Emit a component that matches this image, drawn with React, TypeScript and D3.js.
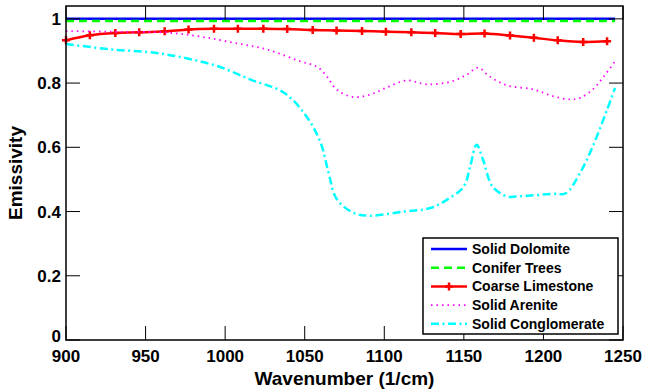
import React from 'react';
import * as d3 from 'd3';

// Flat spectra (start / end of the band)
const flatX = [900, 1245];
const solidDolomite = [1.0, 1.0];
const coniferTrees = [0.993, 0.993];

// Coarse limestone, sampled channels (marked with +)
const limestoneX = [900, 915, 931, 946, 962, 977, 993, 1008, 1024, 1039, 1055, 1070,
    1086, 1101, 1117, 1132, 1148, 1163, 1179, 1194, 1209, 1225, 1240];
const coarseLimestone = [0.933, 0.949, 0.956, 0.958, 0.961, 0.967, 0.969, 0.969, 0.969, 0.968,
    0.965, 0.964, 0.962, 0.960, 0.958, 0.956, 0.953, 0.954, 0.948, 0.941, 0.933, 0.928, 0.930];

const areniteX = [900, 928, 964, 984, 1005, 1026, 1047, 1058, 1064, 1070, 1080, 1091, 1101, 1114,
    1127, 1143, 1152, 1159, 1166, 1177, 1194, 1206, 1217, 1223, 1231, 1238, 1245];
const solidArenite = [0.962, 0.960, 0.957, 0.945, 0.926, 0.905, 0.868, 0.85, 0.82, 0.78, 0.757,
    0.764, 0.785, 0.808, 0.796, 0.806, 0.827, 0.848, 0.821, 0.793, 0.780, 0.759, 0.749, 0.754,
    0.780, 0.821, 0.868];

const conglomerateX = [900, 928, 953, 974, 995, 1016, 1037, 1051, 1060, 1065, 1070, 1081, 1091,
    1112, 1129, 1141, 1150, 1154, 1158, 1162, 1168, 1177, 1183, 1206, 1214, 1223, 1231, 1240, 1245];
const solidConglomerate = [0.922, 0.905, 0.896, 0.879, 0.853, 0.811, 0.770, 0.697, 0.614, 0.52,
    0.44, 0.395, 0.387, 0.400, 0.411, 0.442, 0.478, 0.541, 0.608, 0.562, 0.478, 0.447, 0.447,
    0.455, 0.457, 0.520, 0.603, 0.717, 0.785];

const xTicks = [900, 950, 1000, 1050, 1100, 1150, 1200, 1250];
const yTicks = [0, 0.2, 0.4, 0.6, 0.8, 1];

const series = [
    { name: 'Solid Dolomite', xs: flatX, ys: solidDolomite, color: '#0000ff', dash: '', w: 2.5, markers: false },
    { name: 'Conifer Trees', xs: flatX, ys: coniferTrees, color: '#00ff00', dash: '8,5', w: 2.5, markers: false },
    { name: 'Coarse Limestone', xs: limestoneX, ys: coarseLimestone, color: '#ff0000', dash: '', w: 2.5, markers: true },
    { name: 'Solid Arenite', xs: areniteX, ys: solidArenite, color: '#ff00ff', dash: '1.5,4', w: 1.8, markers: false },
    { name: 'Solid Conglomerate', xs: conglomerateX, ys: solidConglomerate, color: '#00ffff', dash: '8,3.5,2,3.5', w: 2.5, markers: false },
];

const font = '"Liberation Sans", Arial, Helvetica, sans-serif';

export default function App() {
    const width = 652;
    const height = 392;
    const m = { left: 66, right: 29, top: 6, bottom: 52 };
    const x = d3.scaleLinear().domain([900, 1250]).range([m.left, width - m.right]);
    const y = d3.scaleLinear().domain([0, 1.04]).range([height - m.bottom, m.top]);
    const tick = 14;

    const line = (xs: number[], ys: number[]) =>
        d3.line<number>()
            .x((_, i) => x(xs[i]))
            .y(d => y(d))
            .curve(d3.curveCatmullRom)(ys) || '';

    const plus = (cx: number, cy: number) => `M${cx - 4},${cy}h8M${cx},${cy - 4}v8`;

    const x0 = m.left, x1 = width - m.right, y0 = height - m.bottom, y1 = m.top;

    const lg = { x: 423, y: 238, w: 195, h: 96, row: 18.7 };

    return (
        <svg width={width} height={height} style={{ position: 'absolute', left: 0, top: 0, background: '#fff' }}
            fontFamily={font} fontWeight="bold">
            <rect x={0} y={0} width={width} height={height} fill="#fff" />

            {series.map(s => (
                <g key={s.name}>
                    <path d={line(s.xs, s.ys)} fill="none" stroke={s.color} strokeWidth={s.w}
                        strokeDasharray={s.dash || undefined} />
                    {s.markers && s.xs.map((v, i) => (
                        <path key={i} d={plus(x(v), y(s.ys[i]))} stroke={s.color} strokeWidth={2.5} fill="none" />
                    ))}
                </g>
            ))}

            {/* axes box */}
            <rect x={x0} y={y1} width={x1 - x0} height={y0 - y1} fill="none" stroke="#000" strokeWidth={1.5} />
            {xTicks.map(t => (
                <g key={`x${t}`}>
                    <line x1={x(t)} x2={x(t)} y1={y0} y2={y0 - tick} stroke="#000" strokeWidth={1} />
                    <line x1={x(t)} x2={x(t)} y1={y1} y2={y1 + tick} stroke="#000" strokeWidth={1} />
                    <text x={x(t)} y={y0 + 22} textAnchor="middle" fontSize={17}>{t}</text>
                </g>
            ))}
            {yTicks.map(t => (
                <g key={`y${t}`}>
                    <line x1={x0} x2={x0 + tick} y1={y(t)} y2={y(t)} stroke="#000" strokeWidth={1} />
                    <line x1={x1} x2={x1 - tick} y1={y(t)} y2={y(t)} stroke="#000" strokeWidth={1} />
                    <text x={x0 - 5} y={y(t) + (t === 0 ? 2 : 6)} textAnchor="end" fontSize={17}>{t === 0 ? '0' : t === 1 ? '1' : t.toFixed(1)}</text>
                </g>
            ))}

            <text x={(x0 + x1) / 2} y={385} textAnchor="middle" fontSize={19}>Wavenumber (1/cm)</text>
            <text transform={`translate(22,${(y0 + y1) / 2}) rotate(-90)`} textAnchor="middle" fontSize={19}>Emissivity</text>

            {/* legend */}
            <rect x={lg.x} y={lg.y} width={lg.w} height={lg.h} fill="#fff" stroke="#000" strokeWidth={1.5} />
            {series.map((s, i) => {
                const ly = lg.y + 11 + i * lg.row;
                return (
                    <g key={`l${s.name}`}>
                        <line x1={lg.x + 8} x2={lg.x + 44} y1={ly} y2={ly} stroke={s.color} strokeWidth={s.w}
                            strokeDasharray={s.dash || undefined} />
                        {s.markers && <path d={plus(lg.x + 26, ly)} stroke={s.color} strokeWidth={2.5} />}
                        <text x={lg.x + 49} y={ly + 5} fontSize={14}>{s.name}</text>
                    </g>
                );
            })}
        </svg>
    );
}
